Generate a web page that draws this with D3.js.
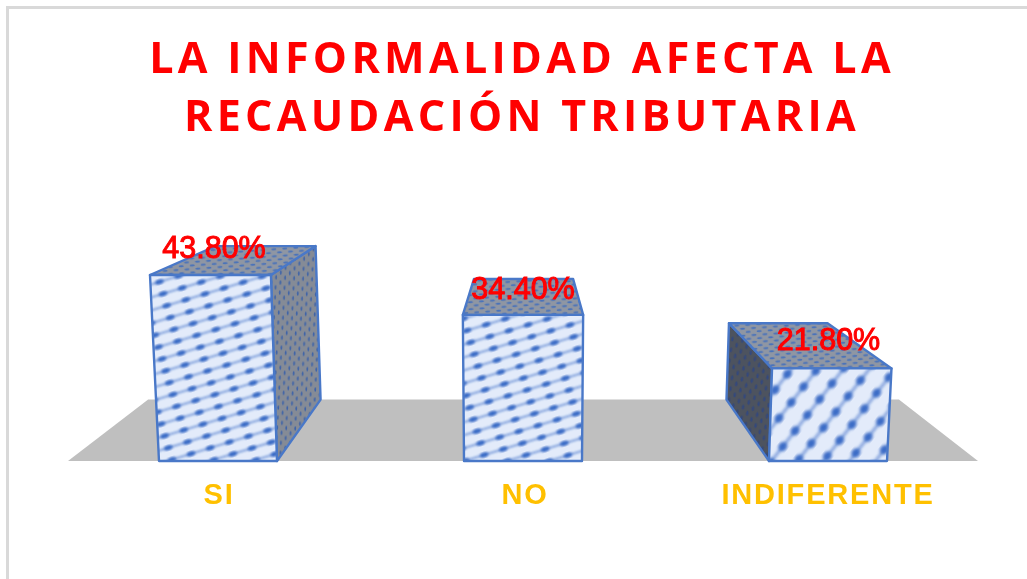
<!DOCTYPE html>
<html><head><meta charset="utf-8">
<script src="https://cdn.jsdelivr.net/npm/d3@7/dist/d3.min.js"></script>
<style>html,body{margin:0;padding:0;background:#fff}svg{display:block}</style>
</head><body><svg id="c" width="1027" height="579"></svg>
<script>
const categories = ["SI","NO","INDIFERENTE"];
const values = [43.8,34.4,21.8];
const valueLabels = ["43.80%","34.40%","21.80%"];
const titleLines = ["LA INFORMALIDAD AFECTA LA","RECAUDACIÓN TRIBUTARIA"];

const svg = d3.select("#c");
const x = d3.scalePoint().domain(categories).range([218,828]);
const y = d3.scaleLinear().domain([0,43.8]).range([461,275]);
const halfW = 59, vp = {x:526,y:110}, depth = 0.175, cx = 523, flare = 0.000133;

const defs = svg.append("defs");
function blur(id,sd){
  defs.append("filter").attr("id",id).attr("x","-10%").attr("y","-10%").attr("width","120%").attr("height","120%")
    .append("feGaussianBlur").attr("stdDeviation",sd);
}
blur("soft",0.9); blur("soft2",1.4); blur("fine",0.45); blur("page",0.4);

function patt(id,w,h,transform,bg,color,lw,rx,ry,filter){
  const p = defs.append("pattern").attr("id",id).attr("patternUnits","userSpaceOnUse")
    .attr("width",w).attr("height",h).attr("patternTransform",transform);
  p.append("rect").attr("width",w).attr("height",h).attr("fill",bg);
  const g = p.append("g").attr("filter","url(#"+filter+")");
  if(lw>0) g.append("rect").attr("x",-4).attr("width",w+8).attr("y",h/2-lw/2).attr("height",lw).attr("fill",color).attr("opacity",0.65);
  [0.25,0.75].forEach(d=>g.append("ellipse").attr("cx",d*w).attr("cy",h/2).attr("rx",rx).attr("ry",ry).attr("fill",color));
}
// staggered rows of small dashes, for the shaded faces
function brick(id,w,h,transform,bg,color,rx,ry){
  const p = defs.append("pattern").attr("id",id).attr("patternUnits","userSpaceOnUse")
    .attr("width",w).attr("height",h).attr("patternTransform",transform);
  p.append("rect").attr("width",w).attr("height",h).attr("fill",bg);
  const g = p.append("g").attr("filter","url(#fine)");
  [[0.25,0.25],[0.75,0.75]].forEach(d=>g.append("ellipse").attr("cx",d[0]*w).attr("cy",d[1]*h).attr("rx",rx).attr("ry",ry).attr("fill",color));
}
patt("frontA",40,12.4,"rotate(-17)","#e3ebfa","#3a6cc6",1.8,4.5,2.6,"soft");
patt("frontC",40,20.5,"rotate(-52)","#e3ebfa","#3a6cc6",2.6,5,4.2,"soft2");
brick("sideR",9,10,"rotate(3)","#858b96","#3f64a8",0.9,2.2);
brick("sideL",10,11,"rotate(8)","#4d525e","#30497f",1.1,2.6);
brick("topG",11,7,"rotate(-4)","#8f96a3","#4a72ba",2.6,0.9);

const lift = (px,v)=>{ // front-face point at value height, with vertical perspective
  const yy=y(v); return [cx+(px-cx)*(1+flare*(y(0)-yy)),yy];
};
const back = p=>[p[0]+depth*(vp.x-p[0]),p[1]+depth*(vp.y-p[1])];
const line = pts=>"M"+pts.map(p=>p.join(",")).join("L")+"Z";

const root = svg.append("g").attr("filter","url(#page)");

// chart frame edges
svg.append("path").attr("d","M7.5,579V7.5H1027").attr("fill","none").attr("stroke","#d9d9d9").attr("stroke-width",3);

// floor
const fl=lift(cx-455,0), fr=lift(cx+455,0);
root.append("path").attr("d",line([fl,fr,back(fr),back(fl)])).attr("fill","#bfbfbf");

// bars
const faces = categories.map((c,i)=>{
  const v=values[i], xc=x(c);
  return {c,bl:lift(xc-halfW,0),br:lift(xc+halfW,0),tl:lift(xc-halfW,v),tr:lift(xc+halfW,v)};
});
const g=root.append("g").attr("stroke","#4a78c8").attr("stroke-width",2.4).attr("stroke-linejoin","round");
faces.forEach(f=>{
  const side = f.c==="SI" ? line([f.br,f.tr,back(f.tr),back(f.br)])
             : f.c==="INDIFERENTE" ? line([f.bl,f.tl,back(f.tl),back(f.bl)]) : null;
  if(side) g.append("path").attr("d",side).attr("fill",f.c==="SI"?"url(#sideR)":"url(#sideL)");
  g.append("path").attr("d",line([f.tl,f.tr,back(f.tr),back(f.tl)])).attr("fill","url(#topG)");
  g.append("path").attr("d",line([f.bl,f.br,f.tr,f.tl])).attr("fill",f.c==="INDIFERENTE"?"url(#frontC)":"url(#frontA)");
});

// value labels
root.append("g").selectAll("text").data(valueLabels).join("text")
  .attr("x",(d,i)=>x(categories[i])+[-4,0,0.5][i])
  .attr("y",(d,i)=>y(values[i])+[-17,-16,-18][i])
  .attr("text-anchor","middle").attr("font-family","Liberation Sans").attr("font-size",30.5)
  .attr("fill","#ff0000").attr("stroke","#ff0000").attr("stroke-width",1).text(d=>d);

// category labels
root.append("g").selectAll("text").data(categories).join("text")
  .attr("x",(d,i)=>x(d)+[1,2,0][i]).attr("y",504).attr("text-anchor","middle")
  .attr("font-family","Liberation Sans").attr("font-weight",700).attr("font-size",29)
  .attr("letter-spacing",1.8).attr("fill","#ffc000").text(d=>d);

// title
root.append("g").selectAll("text").data(titleLines).join("text")
  .attr("x",522).attr("y",(d,i)=>73+i*58).attr("text-anchor","middle")
  .attr("font-family","Open Sans").attr("font-weight",700).attr("font-size",43)
  .attr("letter-spacing",4.3).attr("fill","#ff0000").text(d=>d);
</script></body></html>
